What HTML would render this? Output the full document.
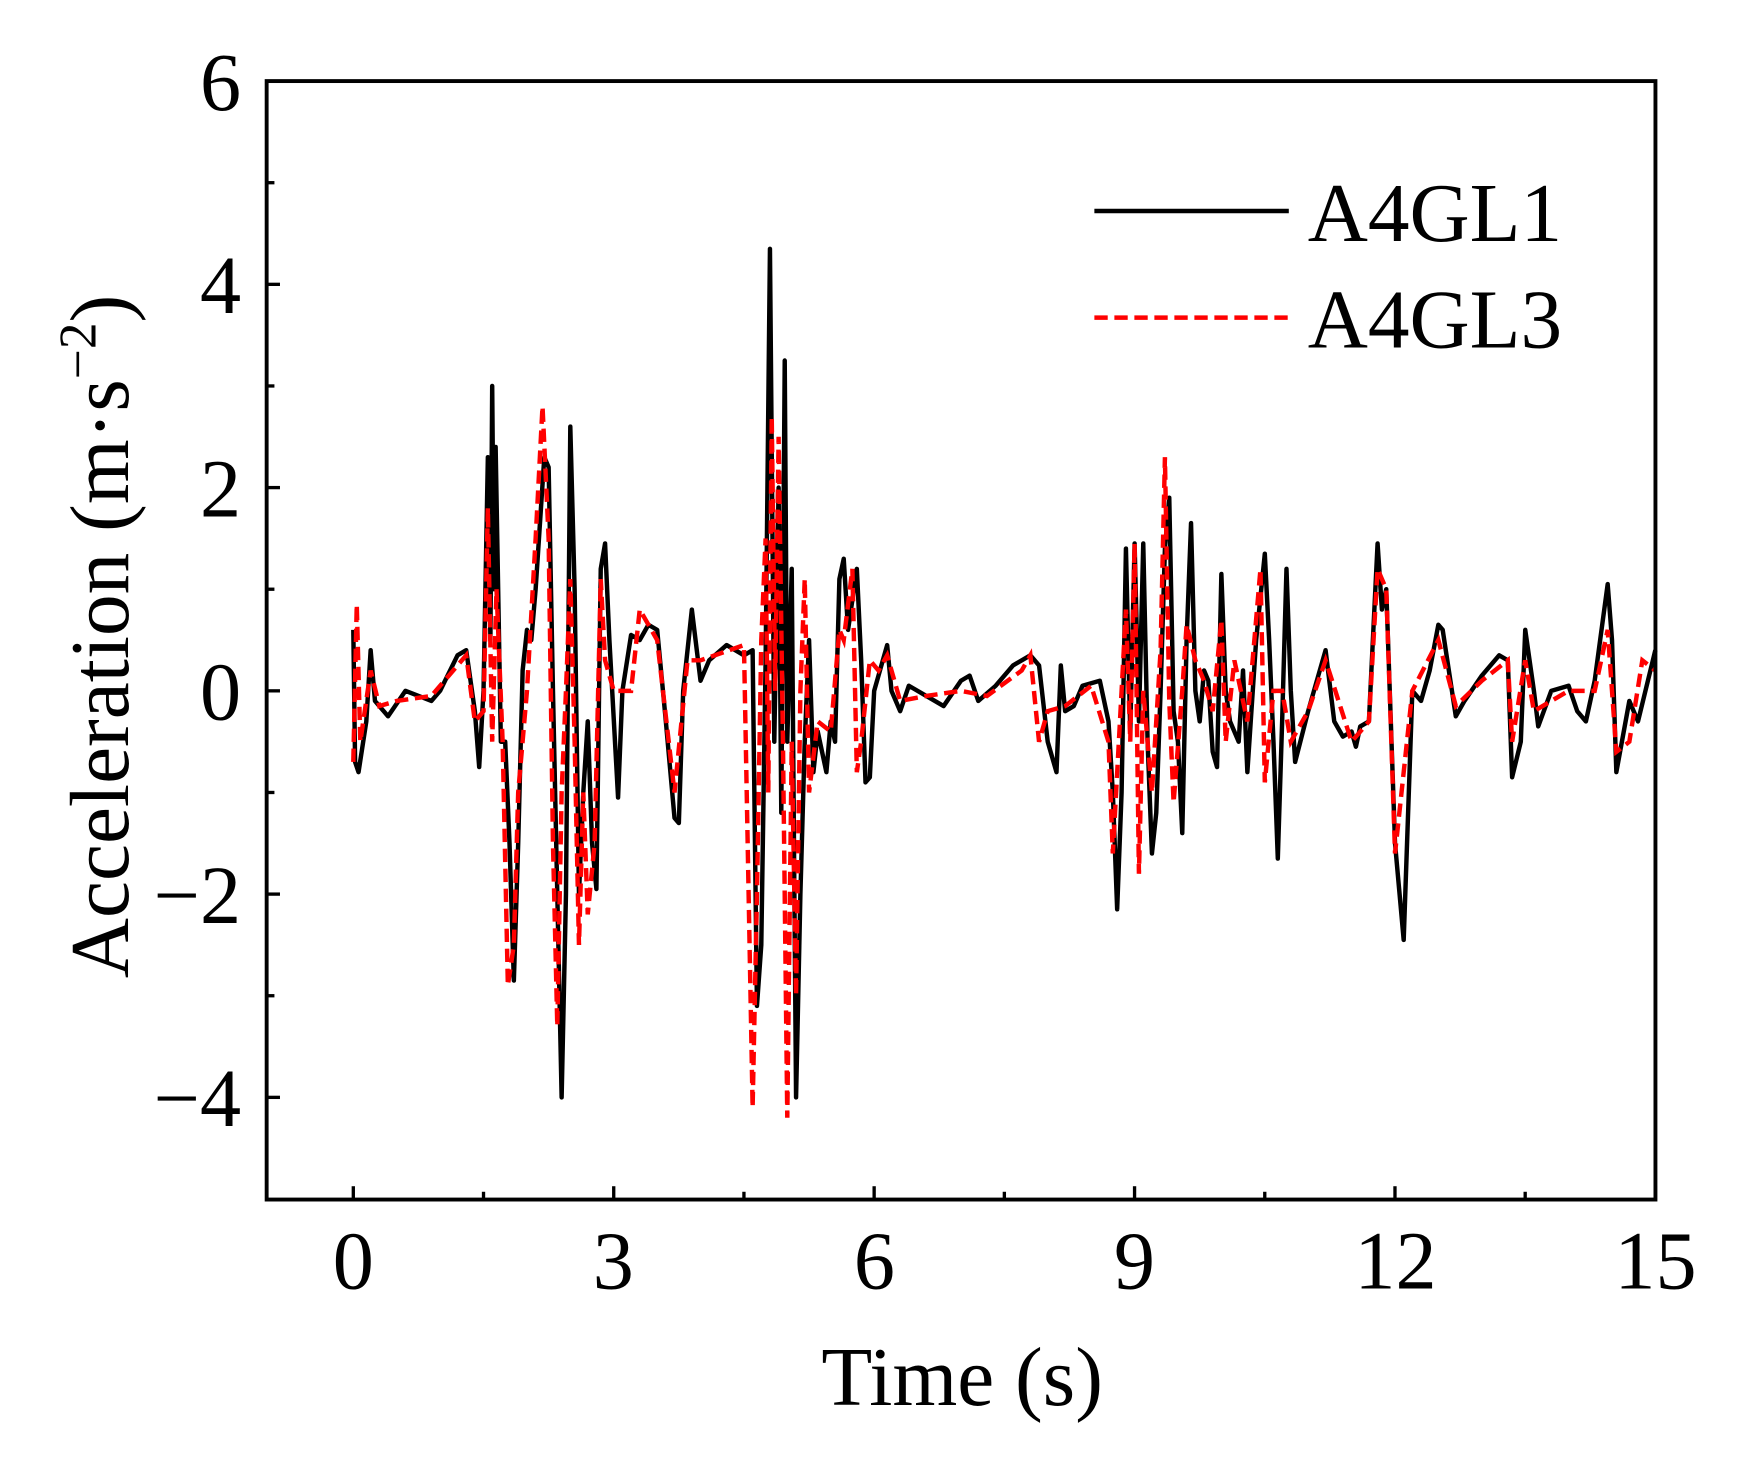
<!DOCTYPE html>
<html><head><meta charset="utf-8"><style>html,body{margin:0;padding:0;background:#fff}svg{display:block}</style></head>
<body>
<svg id="s" width="1741" height="1465" viewBox="0 0 1567 1319" preserveAspectRatio="none" xmlns="http://www.w3.org/2000/svg" font-family="Liberation Serif, serif">
<rect width="1567" height="1319" fill="#fff"/>
<g id="ticks" stroke="#000" stroke-width="3"></g>
<path id="blk" fill="none" stroke="#000" stroke-width="4" stroke-linejoin="round"/>
<path id="red" fill="none" stroke="#f00" stroke-width="4" stroke-dasharray="12,6"/>
<rect x="240" y="73" width="1250" height="1007" fill="none" stroke="#000" stroke-width="3.5"/>
<g font-size="74" text-anchor="end">
<text x="217" y="99">6</text><text x="217" y="282">4</text><text x="217" y="465">2</text>
<text x="217" y="648">0</text><text x="217" y="831">−2</text><text x="217" y="1014">−4</text>
</g>
<g font-size="74" text-anchor="middle">
<text x="318" y="1160">0</text><text x="552" y="1160">3</text><text x="787" y="1160">6</text>
<text x="1021" y="1160">9</text><text x="1256" y="1160">12</text><text x="1490" y="1160">15</text>
</g>
<text x="866" y="1265" font-size="75" text-anchor="middle">Time (s)</text>
<text transform="translate(115,573) rotate(-90)" font-size="75" text-anchor="middle">Acceleration (m·s<tspan dy="-29" font-size="48">−2</tspan><tspan dy="29">)</tspan></text>
<line x1="985" y1="190" x2="1160" y2="190" stroke="#000" stroke-width="4"/>
<line x1="985" y1="286" x2="1160" y2="286" stroke="#f00" stroke-width="4" stroke-dasharray="12,6"/>
<text x="1177" y="217" font-size="75">A4GL1</text>
<text x="1177" y="313" font-size="75">A4GL3</text>
</svg>
<script>
const X=t=>318+t*78.13, Y=v=>622-v*91.5;
const B=[0,0.6,0.02,-0.7,0.06,-0.8,0.15,-0.3,0.2,0.4,0.25,-0.1,0.4,-0.25,0.6,0,0.9,-0.1,1.0,0,1.2,0.35,1.3,0.4,1.4,-0.2,1.45,-0.75,1.5,0,1.55,2.3,1.58,0.5,1.6,3.0,1.62,1.0,1.64,2.4,1.7,-0.5,1.75,-0.5,1.8,-1.5,1.85,-2.85,1.9,-1.5,1.95,0.2,2.0,0.6,2.05,0.5,2.1,1.0,2.2,2.3,2.25,2.2,2.3,0,2.35,-2,2.4,-4.0,2.45,-2,2.5,2.6,2.55,1.0,2.6,-2,2.65,-1.0,2.7,-0.3,2.75,-1.5,2.8,-1.95,2.85,1.2,2.9,1.45,2.95,0.5,3.05,-1.05,3.1,0,3.2,0.55,3.3,0.5,3.4,0.65,3.5,0.6,3.6,-0.3,3.7,-1.25,3.75,-1.3,3.8,0,3.9,0.8,4.0,0.1,4.1,0.3,4.3,0.45,4.5,0.35,4.6,0.4,4.65,-3.1,4.7,-2.5,4.75,0.3,4.8,4.35,4.85,-0.5,4.9,2,4.93,-1.2,4.97,3.25,5.0,-0.5,5.05,1.2,5.1,-4.0,5.15,-2,5.2,-0.5,5.25,0.5,5.3,-0.8,5.35,-0.4,5.45,-0.8,5.5,-0.3,5.55,-0.5,5.6,1.1,5.65,1.3,5.7,0.6,5.8,1.2,5.85,0.3,5.9,-0.9,5.95,-0.85,6.0,0,6.1,0.3,6.15,0.45,6.2,0,6.3,-0.2,6.4,0.05,6.6,-0.05,6.8,-0.15,7.0,0.1,7.1,0.15,7.2,-0.1,7.4,0.05,7.6,0.25,7.8,0.35,7.9,0.25,8.0,-0.5,8.1,-0.8,8.15,0.25,8.2,-0.2,8.3,-0.15,8.4,0.05,8.6,0.1,8.7,-0.3,8.75,-1,8.8,-2.15,8.85,-1,8.9,1.4,8.95,-0.4,9.0,1.45,9.05,-0.3,9.1,1.45,9.15,-0.5,9.2,-1.6,9.25,-1.2,9.3,0,9.35,1.4,9.4,1.9,9.45,-0.2,9.5,-0.5,9.55,-1.4,9.6,0.5,9.65,1.65,9.7,0,9.75,-0.3,9.8,0.2,9.85,0.1,9.9,-0.6,9.95,-0.75,10.0,1.15,10.05,0,10.1,-0.3,10.2,-0.5,10.25,0.2,10.3,-0.8,10.4,0.5,10.5,1.35,10.55,0.5,10.6,-0.5,10.65,-1.65,10.7,-0.3,10.75,1.2,10.8,0,10.85,-0.7,11.0,-0.2,11.2,0.4,11.3,-0.3,11.4,-0.45,11.5,-0.4,11.55,-0.55,11.6,-0.35,11.7,-0.3,11.8,1.45,11.85,0.8,11.9,1.0,12.0,-1.5,12.1,-2.45,12.2,0,12.3,-0.1,12.4,0.2,12.5,0.65,12.55,0.6,12.7,-0.25,12.8,-0.1,13.0,0.15,13.2,0.35,13.3,0.3,13.35,-0.85,13.45,-0.5,13.5,0.6,13.6,0,13.65,-0.35,13.8,0,14.0,0.05,14.1,-0.2,14.2,-0.3,14.3,0.1,14.45,1.05,14.5,0.5,14.55,-0.8,14.7,-0.1,14.8,-0.3,15,0.4];
const R=[0,-0.7,0.04,0.85,0.08,-0.5,0.2,0.2,0.3,-0.15,0.5,-0.1,0.9,-0.05,1.3,0.35,1.4,-0.3,1.5,-0.2,1.55,1.8,1.6,-0.5,1.65,1.0,1.72,-0.5,1.78,-2.9,1.85,-2.5,1.9,-1.0,2.0,0,2.1,1.5,2.18,2.8,2.25,1.5,2.3,-1.5,2.35,-3.3,2.4,-1,2.45,0,2.5,1.1,2.55,-0.5,2.6,-2.5,2.65,-1,2.7,-2.2,2.78,-1.5,2.85,1.1,2.9,0.3,3.0,0,3.2,0,3.3,0.8,3.5,0.5,3.7,-1.0,3.85,0.3,4.0,0.3,4.5,0.45,4.6,-4.1,4.65,-2,4.7,0.5,4.75,1.5,4.78,-1,4.82,2.7,4.86,0,4.9,2.5,4.95,-0.5,5.0,-4.2,5.05,-0.5,5.1,-3,5.15,0,5.2,1.1,5.25,-1,5.35,-0.3,5.5,-0.4,5.6,0.6,5.65,0.5,5.75,1.2,5.8,-0.8,5.85,-0.5,5.95,0.3,6.05,0.2,6.15,0.35,6.3,-0.1,6.6,-0.05,7.0,0,7.3,-0.05,7.7,0.2,7.8,0.35,7.9,-0.5,8.0,-0.2,8.2,-0.15,8.5,0.05,8.7,-0.5,8.75,-1.6,8.85,0,8.9,0.8,8.95,-0.5,9.0,1.45,9.05,-1.8,9.1,0,9.2,-1.0,9.3,0.4,9.35,2.3,9.4,-0.1,9.45,-1.1,9.55,0,9.6,0.65,9.7,0.3,9.8,0.1,9.9,-0.2,10,0.7,10.05,-0.5,10.15,0.3,10.3,-0.3,10.45,1.2,10.5,-0.9,10.6,0,10.7,0,10.8,-0.5,11,-0.2,11.2,0.3,11.5,-0.5,11.7,-0.3,11.8,1.2,11.9,1.0,12.0,-1.6,12.1,-0.8,12.2,0,12.5,0.5,12.7,-0.15,13.0,0.1,13.3,0.3,13.35,-0.5,13.5,0.3,13.6,-0.2,14.0,0,14.3,0,14.45,0.6,14.55,-0.6,14.7,-0.5,14.85,0.3,15,0.2];
function d(a){let s='';for(let i=0;i<a.length;i+=2)s+=(i?'L':'M')+X(a[i]).toFixed(1)+','+Y(a[i+1]).toFixed(1);return s;}
document.getElementById('blk').setAttribute('d',d(B));
document.getElementById('red').setAttribute('d',d(R));
let t='';
for(let v=-5;v<=6;v++){const y=Y(v);if(v>-5&&v<6)t+=`<line x1="240" y1="${y}" x2="${v%2==0?252:247}" y2="${y}"/>`;}
for(let k=0;k<=10;k++){const x=X(k*1.5);t+=`<line x1="${x}" y1="1080" x2="${x}" y2="${k%2==0?1068:1073}"/>`;}
document.getElementById('ticks').innerHTML=t;
</script>
</body></html>
